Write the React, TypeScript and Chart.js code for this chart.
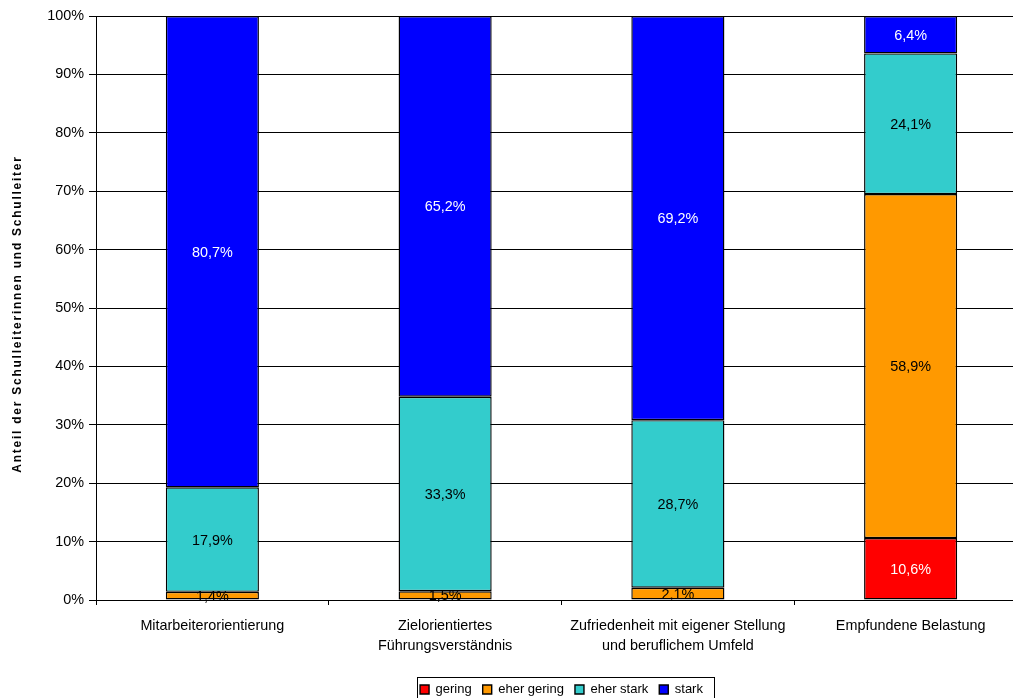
import React, { useEffect, useRef } from 'react';
import { Chart, registerables } from 'chart.js';

Chart.register(...registerables);

// ---- Data ----
const categories: string[][] = [
  ['Mitarbeiterorientierung'],
  ['Zielorientiertes', 'Führungsverständnis'],
  ['Zufriedenheit mit eigener Stellung', 'und beruflichem Umfeld'],
  ['Empfundene Belastung'],
];
const seriesNames = ['gering', 'eher gering', 'eher stark', 'stark'];
const gering = [0, 0, 0, 10.6];
const eherGering = [1.4, 1.5, 2.1, 58.9];
const eherStark = [17.9, 33.3, 28.7, 24.1];
const stark = [80.7, 65.2, 69.2, 6.4];
const seriesColors = ['#FF0000', '#FF9900', '#33CCCC', '#0000FF'];
const labelColors = ['#FFFFFF', '#000000', '#000000', '#FFFFFF'];
const yTickValues = [0, 10, 20, 30, 40, 50, 60, 70, 80, 90, 100];
const yTitle = 'Anteil der Schulleiterinnen und Schulleiter';

const FONT = '"Liberation Sans", Arial, sans-serif';
const TEXT_SIZE = 14.4;
const fmt = (v: number) => v.toFixed(1).replace('.', ',') + '%';

const valueLabelPlugin = {
  id: 'valueLabels',
  afterDatasetsDraw(chart: any) {
    const ctx = chart.ctx;
    ctx.save();
    ctx.font = `${TEXT_SIZE}px ${FONT}`;
    ctx.textAlign = 'center';
    ctx.textBaseline = 'middle';
    chart.data.datasets.forEach((ds: any, di: number) => {
      const meta = chart.getDatasetMeta(di);
      meta.data.forEach((el: any, i: number) => {
        const v = ds.data[i];
        if (!v) return;
        const { x, y, base } = el.getProps(['x', 'y', 'base'], true);
        ctx.fillStyle = labelColors[di];
        ctx.fillText(fmt(v), x, (y + base) / 2 + 1);
      });
    });
    ctx.restore();
  },
};

const extrasPlugin = {
  id: 'extras',
  afterDraw(chart: any) {
    const ctx = chart.ctx;
    const area = chart.chartArea;
    // y axis title with letter spacing
    ctx.save();
    ctx.translate(18, (area.top + area.bottom) / 2 + 6);
    ctx.rotate(-Math.PI / 2);
    ctx.font = `bold 12px ${FONT}`;
    try { (ctx as any).letterSpacing = '1.75px'; } catch (e) {}
    ctx.fillStyle = '#000';
    ctx.textAlign = 'center';
    ctx.textBaseline = 'middle';
    ctx.fillText(yTitle, 0, 0);
    ctx.restore();
    // legend border
    const lg = chart.legend;
    if (lg && lg.legendHitBoxes && lg.legendHitBoxes.length) {
      const hb = lg.legendHitBoxes;
      const first = hb[0];
      const last = hb[hb.length - 1];
      const left = Math.round(first.left - 3) + 0.5;
      const right = Math.round(last.left + last.width + 11) + 0.5;
      const top = Math.round(first.top - 6) + 0.5;
      ctx.save();
      ctx.strokeStyle = '#000';
      ctx.lineWidth = 1;
      ctx.strokeRect(left, top, right - left, chart.height + 10 - top);
      ctx.restore();
    }
  },
};

export default function App() {
  const ref = useRef<HTMLCanvasElement | null>(null);
  useEffect(() => {
    if (!ref.current) return;
    Chart.defaults.font.family = FONT;
    Chart.defaults.color = '#000';
    const data = [gering, eherGering, eherStark, stark];
    const chart = new Chart(ref.current, {
      type: 'bar',
      data: {
        labels: categories,
        datasets: seriesNames.map((name, i) => ({
          label: name,
          data: data[i],
          backgroundColor: seriesColors[i],
          borderColor: '#000',
          borderWidth: 1.4,
          borderSkipped: false,
          barPercentage: 0.4,
          categoryPercentage: 1.0,
        })),
      },
      options: {
        responsive: false,
        animation: false,
        devicePixelRatio: 1,
        layout: { padding: { top: 16, right: 13, left: 0, bottom: 0 } },
        plugins: {
          tooltip: { enabled: false },
          legend: {
            position: 'bottom',
            fullSize: false,
            labels: {
              boxWidth: 9,
              boxHeight: 9,
              padding: 11,
              color: '#000',
              font: { size: 13, family: FONT },
            },
          },
        },
        scales: {
          x: {
            stacked: true,
            offset: true,
            grid: {
              display: true,
              offset: true,
              drawOnChartArea: false,
              drawTicks: true,
              tickLength: 5,
              color: '#000',
            },
            border: { display: true, color: '#000', width: 1 },
            ticks: {
              color: '#000',
              padding: 11,
              maxRotation: 0,
              autoSkip: false,
              font: { size: TEXT_SIZE, family: FONT, lineHeight: 1.4 },
            },
            afterFit: (scale: any) => { scale.height = 72; },
          },
          y: {
            stacked: true,
            min: 0,
            max: 100,
            afterBuildTicks: (scale: any) => {
              scale.ticks = yTickValues.map((v) => ({ value: v }));
            },
            ticks: {
              color: '#000',
              padding: 5,
              callback: (v: any) => v + '%',
              font: { size: TEXT_SIZE, family: FONT },
            },
            grid: {
              display: true,
              color: '#000',
              lineWidth: 1,
              drawTicks: true,
              tickLength: 7,
            },
            border: { display: true, color: '#000', width: 1 },
            afterFit: (scale: any) => { scale.width = 96; },
          },
        },
      },
      plugins: [valueLabelPlugin, extrasPlugin],
    } as any);
    return () => chart.destroy();
  }, []);

  return (
    <div
      style={{
        position: 'absolute',
        left: 0,
        top: 0,
        width: 1013,
        height: 698,
        overflow: 'hidden',
        background: '#fff',
      }}
    >
      <canvas ref={ref} width={1040} height={706} style={{ display: 'block', width: 1040, height: 706 }} />
    </div>
  );
}
